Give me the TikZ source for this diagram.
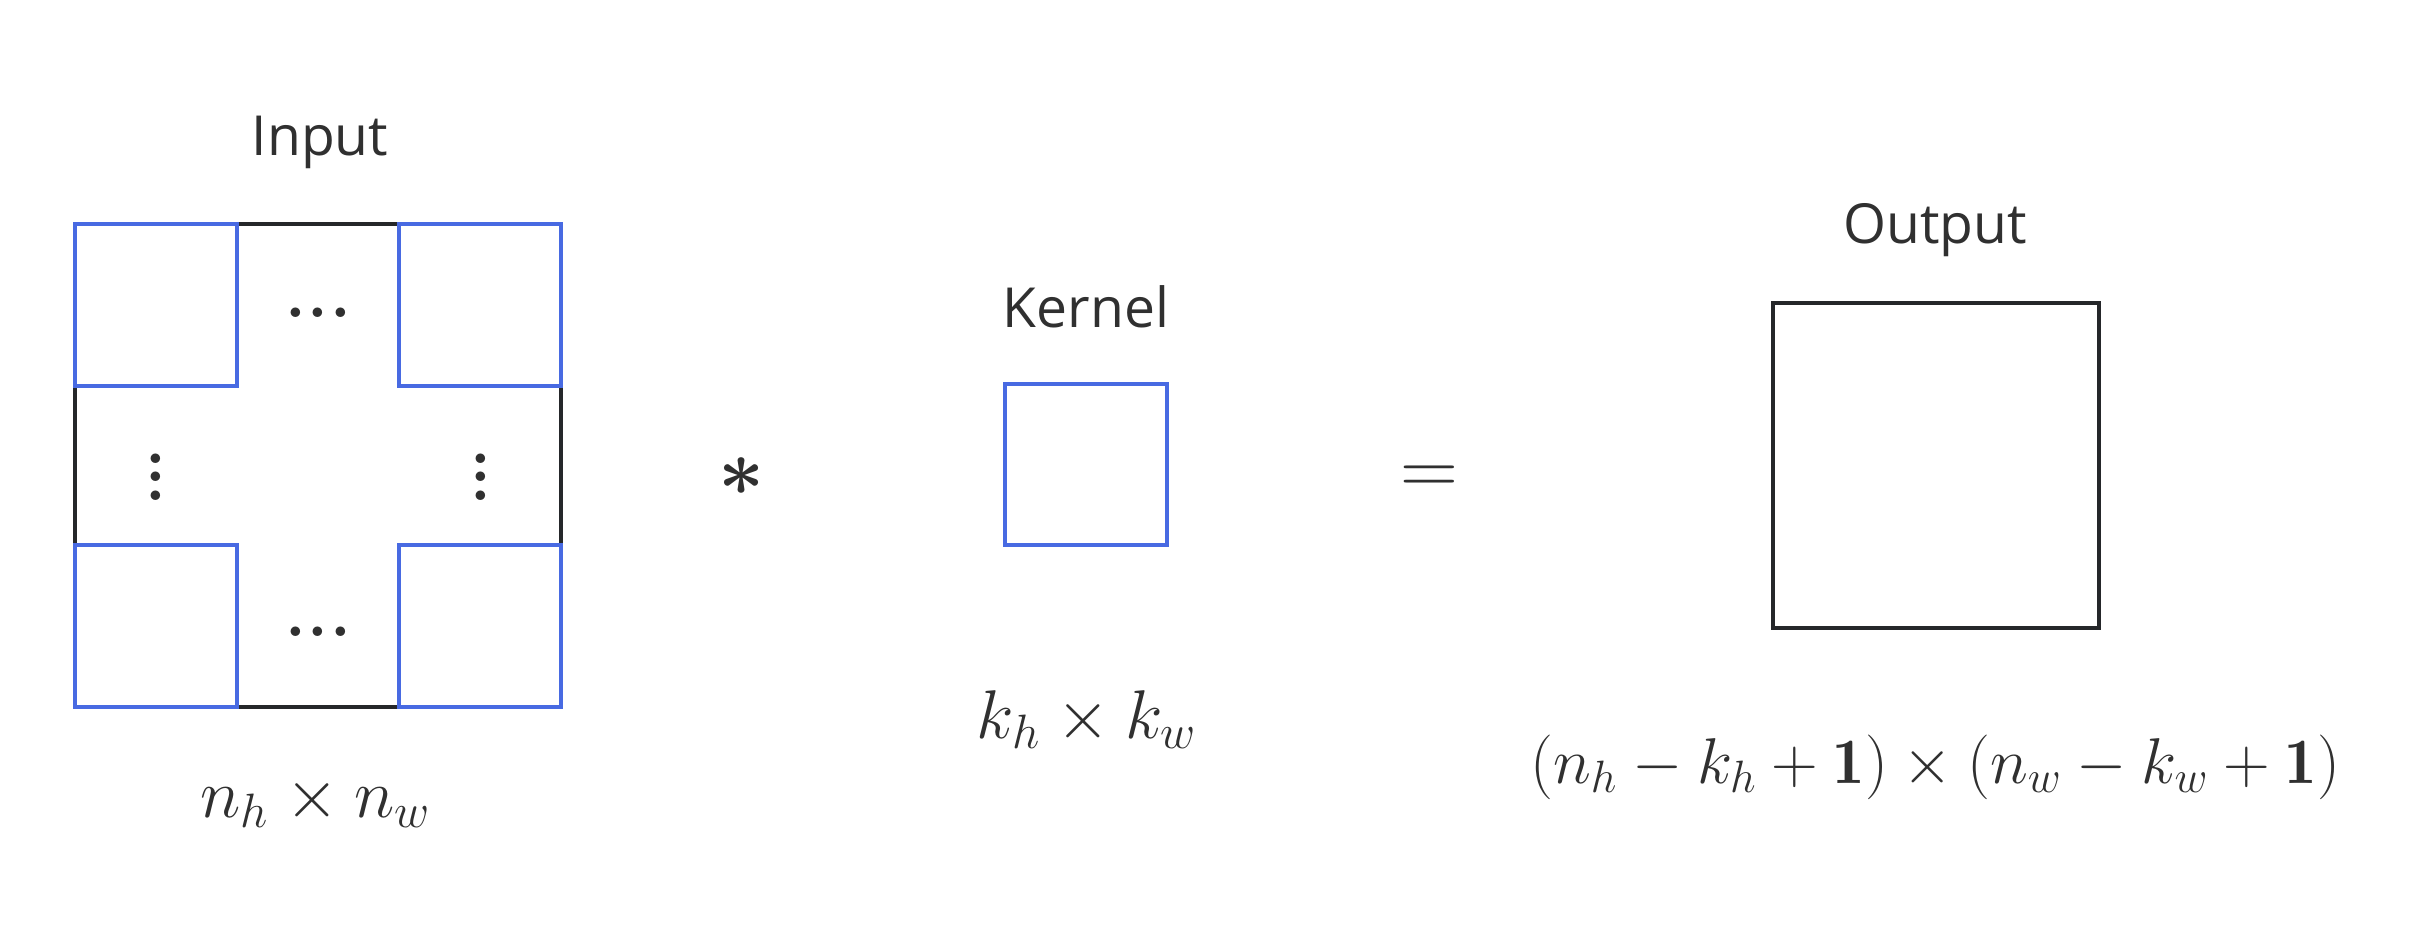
\RequirePackage{fix-cm}
\documentclass[tikz,border=0pt]{standalone}
\usepackage{fontspec}
\usepackage{graphicx}
\usepackage{bm}
\newfontfamily\labelfont{Open Sans}
\definecolor{ktext}{HTML}{303030}
\definecolor{kline}{HTML}{25272A}
\definecolor{kblue}{RGB}{72,106,226}
\newcommand{\hdotsrow}{\scalebox{1.3}{.\kern0.4pt.\kern0.4pt.}}
\begin{document}
\begin{tikzpicture}[x=0.01cm,y=-0.01cm,
  lbl/.style={font=\labelfont\fontsize{15.7}{19}\selectfont, text=ktext, anchor=base, inner sep=0pt},
  dimtxt/.style={font=\fontsize{19.6}{24}\selectfont, text=ktext, anchor=base, inner sep=0pt},
  frmtxt/.style={font=\fontsize{18.4}{22}\selectfont, text=ktext, anchor=base, inner sep=0pt},
  dottxt/.style={font=\bfseries\fontsize{14.5}{18}\selectfont, text=ktext, anchor=base, inner sep=0pt},
  optxt/.style={font=\fontsize{22.8}{27}\selectfont, text=ktext, anchor=base, inner sep=0pt},
  blackbox/.style={draw=kline, line width=1.14pt},
  bluebox/.style={draw=kblue, line width=1.14pt}]
\useasboundingbox (0,0) rectangle (2422,930);

% Input
\node[lbl] (inlbl) at (320,155) {Input};
\draw[blackbox] (75,224) rectangle (561,707);
\draw[bluebox] (75,224) rectangle (237,386);
\draw[bluebox] (399,224) rectangle (561,386);
\draw[bluebox] (75,545) rectangle (237,707);
\draw[bluebox] (399,545) rectangle (561,707);
\node[dottxt] (dtop) at (318,317) {\hdotsrow};
\node[dottxt] (dbot) at (318,636) {\hdotsrow};
\node[dottxt] (dleft) at (156,500) {\scalebox{1.3}{$\vdots$}};
\node[dottxt] (dright) at (481,500) {\scalebox{1.3}{$\vdots$}};
\node[dimtxt] (indim) at (316,817) {$n_h \times n_w$};

% operator
\node[optxt] (opstar) at (742,495) {$\bm{\ast}$};

% Kernel
\node[lbl] (kerlbl) at (1086,327) {Kernel};
\draw[bluebox] (1005,384) rectangle (1167,545);
\node[dimtxt] (kerdim) at (1087,738) {$k_h \times k_w$};

% equals
\node[optxt] (opeq) at (1429,494) {$=$};

% Output
\node[lbl] (outlbl) at (1935,243) {Output};
\draw[blackbox] (1773,303) rectangle (2099,628);
\node[frmtxt] (outdim) at (1935,783) {$(n_h - k_h + \mathbf{1}) \times (n_w - k_w + \mathbf{1})$};
\end{tikzpicture}
\end{document}
